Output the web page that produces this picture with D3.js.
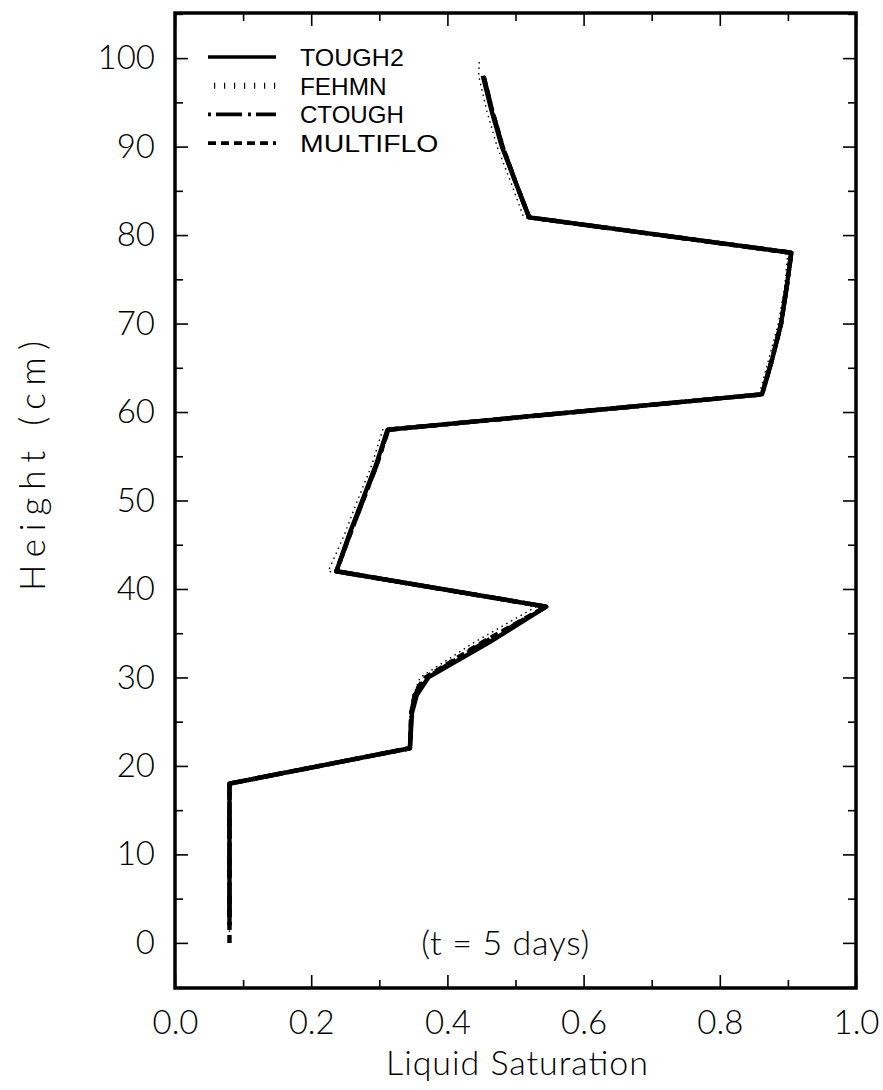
<!DOCTYPE html>
<html lang="en">
<head>
<meta charset="UTF-8">
<title>Liquid Saturation profile</title>
<style>
  body { margin: 0; background: #fff; }
</style>
</head>
<body>
<div id="graph-container"></div>
<script src="https://d3js.org/d3.v7.min.js"></script>
<script>
  // heights (cm) and liquid saturation for each code
  const tough2H = [2, 18, 22, 26, 28, 30, 34, 38, 42, 46, 50, 54, 58, 62, 66, 70, 74, 78, 82, 86, 90, 94, 98];
  const tough2S = [0.08, 0.08, 0.345, 0.348, 0.355, 0.372, 0.462, 0.545, 0.237, 0.255, 0.275, 0.295, 0.312, 0.862, 0.877, 0.89, 0.898, 0.905, 0.52, 0.5, 0.48, 0.465, 0.452];

  const fehmnH = [0, 2, 18, 22, 26, 28, 30, 34, 38, 42, 46, 50, 54, 58, 62, 66, 70, 74, 78, 82, 86, 90, 94, 98, 100];
  const fehmnS = [0.08, 0.08, 0.08, 0.345, 0.345, 0.35, 0.36, 0.44, 0.53, 0.225, 0.248, 0.268, 0.289, 0.305, 0.858, 0.872, 0.886, 0.895, 0.9, 0.512, 0.493, 0.473, 0.458, 0.446, 0.447];

  const ctoughH = [2, 18, 22, 26, 28, 29, 30, 34, 38, 42, 46, 50, 54, 58, 62, 66, 70, 74, 78, 82, 86, 90, 94, 98];
  const ctoughS = [0.08, 0.08, 0.345, 0.347, 0.352, 0.36, 0.37, 0.455, 0.545, 0.237, 0.256, 0.276, 0.296, 0.313, 0.862, 0.877, 0.89, 0.898, 0.905, 0.52, 0.5, 0.481, 0.466, 0.453];

  const multifloH = [0, 2, 18, 22, 26, 28, 29, 30, 34, 38, 42, 46, 50, 54, 58, 62, 66, 70, 74, 78, 82, 86, 90, 94, 98];
  const multifloS = [0.08, 0.08, 0.08, 0.345, 0.347, 0.352, 0.358, 0.368, 0.452, 0.545, 0.237, 0.256, 0.276, 0.296, 0.313, 0.862, 0.877, 0.89, 0.898, 0.905, 0.52, 0.5, 0.481, 0.466, 0.453];

  const seriesNames = ["TOUGH2", "FEHMN", "CTOUGH", "MULTIFLO"];
  const xTicks = [0, 0.2, 0.4, 0.6, 0.8, 1.0];
  const yTicks = [0, 10, 20, 30, 40, 50, 60, 70, 80, 90, 100];

  const W = 883, H = 1090;
  const margin = { top: 13, right: 27, bottom: 102, left: 175 };
  const width = W - margin.left - margin.right;
  const height = H - margin.top - margin.bottom;
  const labelFont = "Lato, 'Open Sans', sans-serif";

  const svg = d3.select("#graph-container")
    .append("svg")
      .attr("width", W)
      .attr("height", H);

  const g = svg.append("g")
    .attr("transform", `translate(${margin.left}, ${margin.top})`);

  const x = d3.scaleLinear().domain([0, 1]).range([0, width]);
  const y = d3.scaleLinear().domain([-5.1, 105.1]).range([height, 0]);

  const minorX = d3.range(0, 1.0001, 0.1).filter(v => Math.round(v * 10) % 2 === 1);
  const minorY = d3.range(-5, 106, 5).filter(v => v % 10 !== 0);

  function styleAxis(sel) {
    sel.select(".domain").remove();
    sel.selectAll(".tick line").attr("stroke", "#000").attr("stroke-width", 1.6);
    sel.selectAll("text")
      .style("font-family", labelFont)
      .style("font-size", "33px")
      .style("font-weight", 300)
      .attr("fill", "#000");
  }

  // bottom axis with labels
  g.append("g")
    .attr("transform", `translate(0, ${height})`)
    .call(d3.axisBottom(x).tickValues(xTicks).tickSize(-13).tickPadding(23).tickFormat(d3.format(".1f")))
    .call(styleAxis);
  g.append("g")
    .attr("transform", `translate(0, ${height})`)
    .call(d3.axisBottom(x).tickValues(minorX).tickSize(-8).tickFormat(""))
    .call(styleAxis);
  // top axis, ticks only
  g.append("g")
    .call(d3.axisTop(x).tickValues(xTicks).tickSize(-13).tickFormat(""))
    .call(styleAxis);
  g.append("g")
    .call(d3.axisTop(x).tickValues(minorX).tickSize(-8).tickFormat(""))
    .call(styleAxis);
  // left axis with labels
  g.append("g")
    .call(d3.axisLeft(y).tickValues(yTicks).tickSize(-13).tickPadding(20))
    .call(styleAxis);
  g.append("g")
    .call(d3.axisLeft(y).tickValues(minorY).tickSize(-8).tickFormat(""))
    .call(styleAxis);
  // right axis, ticks only
  g.append("g")
    .attr("transform", `translate(${width}, 0)`)
    .call(d3.axisRight(y).tickValues(yTicks).tickSize(-13).tickFormat(""))
    .call(styleAxis);
  g.append("g")
    .attr("transform", `translate(${width}, 0)`)
    .call(d3.axisRight(y).tickValues(minorY).tickSize(-8).tickFormat(""))
    .call(styleAxis);

  // frame
  g.append("rect")
    .attr("x", 0).attr("y", 0)
    .attr("width", width).attr("height", height)
    .attr("fill", "none")
    .attr("stroke", "#000")
    .attr("stroke-width", 3.5);

  const styles = {
    TOUGH2:   { dash: null,         w: 4.4 },
    FEHMN:    { dash: "1.5,4",      w: 1.4 },
    CTOUGH:   { dash: "3,5,26,6",   w: 4.4 },
    MULTIFLO: { dash: "8,5",        w: 4.4 }
  };

  const line = d3.line().x(d => x(d[1])).y(d => y(d[0]));
  const curves = [
    ["FEHMN", d3.zip(fehmnH, fehmnS)],
    ["MULTIFLO", d3.zip(multifloH, multifloS)],
    ["CTOUGH", d3.zip(ctoughH, ctoughS)],
    ["TOUGH2", d3.zip(tough2H, tough2S)]
  ];

  g.selectAll(".curve")
    .data(curves)
    .enter()
    .append("path")
      .attr("class", "curve")
      .attr("d", d => line(d[1]))
      .attr("fill", "none")
      .attr("stroke", "#000")
      .attr("stroke-width", d => styles[d[0]].w)
      .attr("stroke-dasharray", d => styles[d[0]].dash)
      .attr("stroke-linejoin", "round");

  // legend
  const legend = g.append("g").attr("transform", "translate(33, 44)");
  seriesNames.forEach((name, i) => {
    const row = legend.append("g").attr("transform", `translate(0, ${i * 28.7})`);
    const s = styles[name];
    row.append("line")
      .attr("x1", name === "FEHMN" ? 6 : 0).attr("x2", 68)
      .attr("y1", 0).attr("y2", 0)
      .attr("stroke", "#000")
      .attr("stroke-width", name === "FEHMN" ? 6 : 3.6)
      .attr("stroke-dasharray", name === "FEHMN" ? "1.2,8.8" : s.dash);
    row.append("text")
      .attr("x", 92)
      .attr("y", 9)
      .style("font-family", "'Liberation Sans', Arial, sans-serif")
      .style("font-size", "24px")
      .attr("textLength", name.length * 17.3)
      .attr("lengthAdjust", "spacingAndGlyphs")
      .text(name);
  });

  // annotation
  g.append("text")
    .attr("x", x(0.485))
    .attr("y", y(0))
    .attr("dy", "0.35em")
    .attr("text-anchor", "middle")
    .style("font-family", labelFont)
    .style("font-size", "34px")
    .style("font-weight", 300)
    .attr("textLength", 168)
    .text("(t = 5 days)");

  // axis titles
  svg.append("text")
    .attr("x", 517)
    .attr("y", 1075)
    .attr("text-anchor", "middle")
    .style("font-family", labelFont)
    .style("font-size", "34px")
    .style("font-weight", 300)
    .attr("textLength", 262)
    .text("Liquid Saturation");

  svg.append("text")
    .attr("transform", `translate(45, 466) rotate(-90)`)
    .attr("text-anchor", "middle")
    .style("font-family", labelFont)
    .style("font-size", "35px")
    .style("font-weight", 300)
    .attr("textLength", 250)
    .text("Height (cm)");
</script>
</body>
</html>
